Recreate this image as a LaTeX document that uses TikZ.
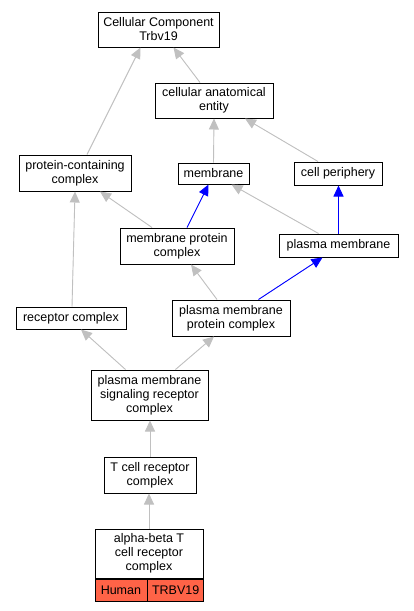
\documentclass[tikz,border=0pt]{standalone}
\usepackage{fontspec}
\setmainfont{Liberation Sans}
\usepackage{xcolor}
\usepackage{tikz}
\usetikzlibrary{positioning,calc,arrows.meta}

\definecolor{tomato}{RGB}{255,99,71}
\definecolor{edgegray}{RGB}{192,192,192}

\begin{document}
\begin{tikzpicture}[
    x=1pt, y=-1pt,
    term/.style={rectangle, draw=black, line width=1pt, fill=white, inner sep=0pt, align=center, font=\fontsize{12.5}{14}\selectfont},
    cell/.style={rectangle, draw=black, line width=0.8pt, fill=tomato, inner sep=0pt, minimum height=22pt, font=\fontsize{12.5}{14}\selectfont},
    gedge/.style={-{Triangle[length=11pt,width=10pt]}, draw=edgegray, fill=edgegray, line width=0.9pt},
    bedge/.style={-{Triangle[length=11pt,width=10pt]}, draw=blue, fill=blue, line width=0.9pt}
]
\useasboundingbox (0,0) rectangle (413,611);

% Root term
\node[term, minimum width=121pt, minimum height=35pt] (cc) at (158.5,29.5) {Cellular Component\\Trbv19};

% Second level
\node[term, minimum width=118pt, minimum height=35pt] (cae) at (214,100.5) {cellular anatomical\\entity};

% Third level
\node[term, minimum width=112pt, minimum height=36pt] (pcc) at (75,173) {protein-containing\\complex};
\node[term, minimum width=71pt, minimum height=21pt] (mem) at (213.5,173.5) {membrane};
\node[term, minimum width=88pt, minimum height=23pt] (cp) at (338,173.5) {cell periphery};

% Fourth level
\node[term, minimum width=114pt, minimum height=36pt] (mpc) at (177,246) {membrane protein\\complex};
\node[term, minimum width=119pt, minimum height=23pt] (pm) at (338.5,245.5) {plasma membrane};

% Fifth level
\node[term, minimum width=110pt, minimum height=22pt] (rc) at (71,318) {receptor complex};
\node[term, minimum width=118pt, minimum height=36pt] (pmpc) at (231,318) {plasma membrane\\protein complex};

% Lower chain
\node[term, minimum width=117pt, minimum height=50pt] (pmsrc) at (149.5,395) {plasma membrane\\signaling receptor\\complex};
\node[term, minimum width=92pt, minimum height=36pt] (tcr) at (150,475) {T cell receptor\\complex};

% Leaf term with annotation row
\node[term, minimum width=108pt, minimum height=49pt] (abt) at (149,553.5) {alpha-beta T\\cell receptor\\complex};
\node[cell, minimum width=52pt, below right=0pt and 0pt of abt.south west] (human) {Human};
\node[cell, minimum width=56pt, right=0pt of human] (trbv) {TRBV19};

% is_a edges (gray)
\draw[gedge] ($(pcc.north)+(12,0)$) -- ($(cc.south)+(-18,0)$);
\draw[gedge] ($(cae.north)+(-14,0)$) -- ($(cc.south)+(15,0)$);
\draw[gedge] (mem.north) -- (cae.south);
\draw[gedge] ($(cp.north)+(-20,0)$) -- ($(cae.south)+(31,0)$);
\draw[gedge] ($(mpc.north)+(-25,0)$) -- ($(pcc.south)+(25,0)$);
\draw[gedge] ($(pm.north)+(-20,0)$) -- ($(mem.south)+(18,0)$);
\draw[gedge] ($(rc.north)+(1,0)$) -- (pcc.south);
\draw[gedge] ($(pmpc.north)+(-14,0)$) -- ($(mpc.south)+(14,0)$);
\draw[gedge] ($(pmsrc.north)+(-24,0)$) -- ($(rc.south)+(10,0)$);
\draw[gedge] ($(pmsrc.north)+(26,0)$) -- ($(pmpc.south)+(-17,0)$);
\draw[gedge] (tcr.north) -- (tcr.north |- pmsrc.south);
\draw[gedge] (abt.north) -- (abt.north |- tcr.south);

% part_of edges (blue)
\draw[bedge] ($(mpc.north)+(10,0)$) -- ($(mem.south)+(-5,0)$);
\draw[bedge] (pm.north) -- (pm.north |- cp.south);
\draw[bedge] ($(pmpc.north east)+(-32,0)$) -- ($(pm.south)+(-16,0)$);

\end{tikzpicture}
\end{document}
